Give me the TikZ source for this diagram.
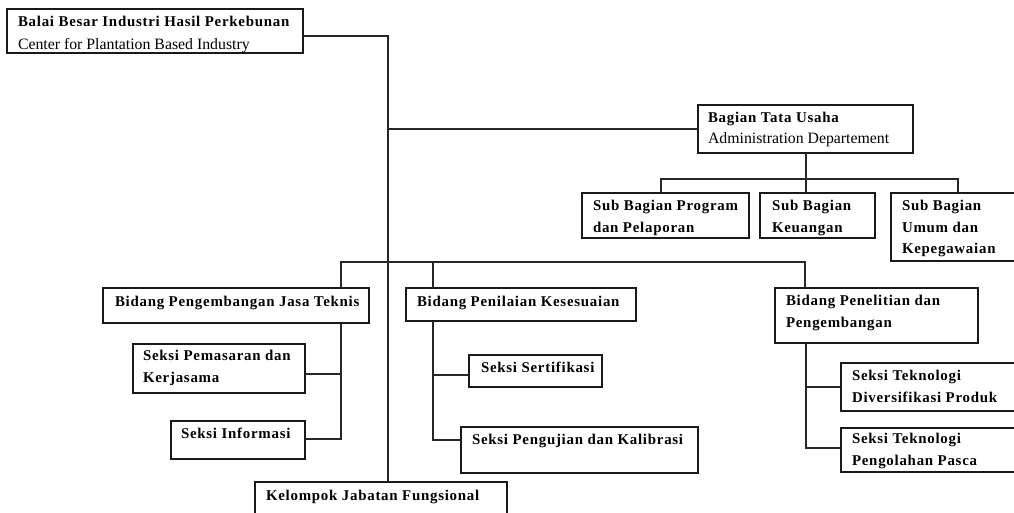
\documentclass[tikz,border=0pt]{standalone}
\usepackage{fontspec}
\setmainfont{Liberation Serif}
\newfontfamily\spacedbold[LetterSpace=5]{Liberation Serif}
\usetikzlibrary{fit}
\tikzset{
  box/.style={draw=black!90, line width=1.2pt, inner sep=0pt, outer sep=0pt, rectangle},
  txt/.style={inner sep=0pt, outer sep=0pt, align=left, anchor=north west, font=\spacedbold\fontsize{14.9}{21.5}\selectfont\bfseries},
  txtn/.style={inner sep=0pt, outer sep=0pt, align=left, anchor=north west, font=\fontsize{15.8}{21.5}\selectfont},
  conn/.style={draw=black!85, line width=1.1pt}
}
\begin{document}
\begin{tikzpicture}[x=1pt,y=-1pt]
\useasboundingbox (0,0) rectangle (1014,513);
\clip (0,0) rectangle (1014,513);
\fill[white] (0,0) rectangle (1014,513);
% boxes
\node[box, fit={(7,9) (303,53)}] (top) {};
\node[txt] (topa) at (18,16.5) {Balai Besar Industri Hasil Perkebunan};
\node[txtn] (topb) at (18,38.5) {Center for Plantation Based Industry};

\node[box, fit={(698,105) (913,153)}] (bag) {};
\node[txt] (baga) at (708,112.5) {Bagian Tata Usaha};
\node[txtn] (bagb) at (708,132.5) {Administration Departement};

\node[box, fit={(582,193) (749,238)}] (sub1) {};
\node[txt] (sub1t) at (593,200.5) {Sub Bagian Program\\dan Pelaporan};
\node[box, fit={(760,193) (875,238)}] (sub2) {};
\node[txt] (sub2t) at (772,200.5) {Sub Bagian\\Keuangan};
\node[box, fit={(891,193) (1030,261)}] (sub3) {};
\node[txt] (sub3t) at (902,200.5) {Sub Bagian\\Umum dan\\Kepegawaian};

\node[box, fit={(103,288) (369,323)}] (bp1) {};
\node[txt] (bp1t) at (115,296.5) {Bidang Pengembangan Jasa Teknis};
\node[box, fit={(133,344) (305,393)}] (sem) {};
\node[txt] (semt) at (143,350.5) {Seksi Pemasaran dan\\Kerjasama};
\node[box, fit={(171,421) (305,459)}] (inf) {};
\node[txt] (inft) at (181,428.5) {Seksi Informasi};

\node[box, fit={(406,288) (636,321)}] (bp2) {};
\node[txt] (bp2t) at (417,296.5) {Bidang Penilaian Kesesuaian};
\node[box, fit={(469,355) (602,387)}] (sert) {};
\node[txt] (sertt) at (481,362.5) {Seksi Sertifikasi};
\node[box, fit={(461,427) (698,473)}] (uji) {};
\node[txt] (ujit) at (472,434.5) {Seksi Pengujian dan Kalibrasi};

\node[box, fit={(775,288) (978,343)}] (bp3) {};
\node[txt] (bp3t) at (786,295.5) {Bidang Penelitian dan\\Pengembangan};
\node[box, fit={(841,363) (1030,411)}] (div) {};
\node[txt] (divt) at (852,370.5) {Seksi Teknologi\\Diversifikasi Produk};
\node[box, fit={(841,428) (1030,472)}] (pas) {};
\node[txt] (past) at (852,433.5) {Seksi Teknologi\\Pengolahan Pasca};

\node[box, fit={(255,482) (507,530)}] (kel) {};
\node[txt] (kelt) at (266,490.5) {Kelompok Jabatan Fungsional};

% connectors
\coordinate (t0) at (388,36);
\draw[conn] (top.east |- t0) -| (kel.north -| t0);
\draw[conn] (t0 |- bag.west) -- (bag.west);
\coordinate (v0) at (806,153);
\draw[conn] (v0 |- bag.south) -- (v0 |- sub2.north);
\coordinate (s1) at (661,179);
\coordinate (s3) at (958,179);
\draw[conn] (s1 |- sub1.north) -- (s1) -- (s3) -- (s3 |- sub3.north);
\coordinate (b1) at (341,262);
\coordinate (b2) at (433,262);
\coordinate (b3) at (805,262);
\draw[conn] (b1 |- bp1.north) -- (b1) -- (b3) -- (b3 |- bp3.north);
\draw[conn] (b2) -- (b2 |- bp2.north);
% bp1 branches
\coordinate (c1) at (341,374);
\coordinate (c2) at (341,439);
\draw[conn] (b1 |- bp1.south) -- (c2) -- (inf.east |- c2);
\draw[conn] (c1) -- (sem.east |- c1);
% bp2 branches
\coordinate (d1) at (433,375);
\coordinate (d2) at (433,440);
\draw[conn] (b2 |- bp2.south) -- (d2) -- (uji.west |- d2);
\draw[conn] (d1) -- (sert.west |- d1);
% bp3 branches
\coordinate (e1) at (806,387);
\coordinate (e2) at (806,448);
\draw[conn] (e1 |- bp3.south) -- (e2) -- (pas.west |- e2);
\draw[conn] (e1) -- (div.west |- e1);
\end{tikzpicture}
\end{document}
